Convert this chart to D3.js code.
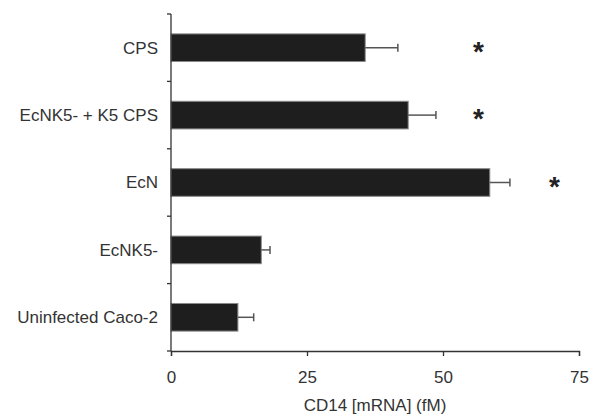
<!DOCTYPE html>
<html>
<head>
<meta charset="utf-8">
<script src="https://cdn.jsdelivr.net/npm/d3@7"></script>
<style>
  body { margin: 0; background: #fff; }
  svg text { font-family: "Liberation Sans", Arial, sans-serif; fill: #333; }
</style>
</head>
<body>
<div id="chart"></div>
<script>
// CD14 mRNA per condition, top to bottom
const categories = ["CPS", "EcNK5- + K5 CPS", "EcN", "EcNK5-", "Uninfected Caco-2"];
const means      = [35.7, 43.6, 58.6, 16.6, 12.3];
const errors     = [6.0, 5.1, 3.7, 1.6, 2.9];
const starX      = [56.5, 56.5, 70.5, null, null];   // where the "*" marks sit
const xTicks     = [0, 25, 50, 75];

const width = 591, height = 416;
const margin = { top: 14, right: 12, bottom: 65, left: 171 };
const FONT = "17px";

const svg = d3.select("#chart").append("svg")
    .attr("width", width)
    .attr("height", height);

const x = d3.scaleLinear().domain([0, 75]).range([margin.left, width - margin.right]);
const y = d3.scaleBand().domain(categories).range([margin.top, height - margin.bottom]).padding(0);
const barH = y.bandwidth() * 0.41;

// bars
svg.selectAll("rect.bar")
    .data(categories)
    .join("rect")
    .attr("class", "bar")
    .attr("x", x(0))
    .attr("y", d => y(d) + (y.bandwidth() - barH) / 2)
    .attr("width", (d, i) => x(means[i]) - x(0))
    .attr("height", barH)
    .attr("fill", "#1e1e1e")
    .attr("stroke", "#8a8a8a")
    .attr("stroke-width", 1);

// error bars (one-sided, to the right)
const eb = svg.selectAll("g.err")
    .data(categories)
    .join("g")
    .attr("class", "err")
    .attr("stroke", "#555")
    .attr("stroke-width", 1.5);

eb.append("line")
    .attr("x1", (d, i) => x(means[i]))
    .attr("x2", (d, i) => x(means[i] + errors[i]))
    .attr("y1", d => y(d) + y.bandwidth() / 2)
    .attr("y2", d => y(d) + y.bandwidth() / 2);

eb.append("line")
    .attr("x1", (d, i) => x(means[i] + errors[i]))
    .attr("x2", (d, i) => x(means[i] + errors[i]))
    .attr("y1", d => y(d) + y.bandwidth() / 2 - 4)
    .attr("y2", d => y(d) + y.bandwidth() / 2 + 4);

// significance stars
svg.selectAll("text.star")
    .data(categories.filter((d, i) => starX[i] != null))
    .join("text")
    .attr("class", "star")
    .attr("x", d => x(starX[categories.indexOf(d)]))
    .attr("y", d => y(d) + y.bandwidth() / 2 + 13)
    .attr("text-anchor", "middle")
    .attr("font-size", "28px")
    .attr("font-weight", "bold")
    .style("fill", "#222")
    .text("*");

// x axis
const xAxis = svg.append("g")
    .attr("transform", `translate(0,${height - margin.bottom})`)
    .call(d3.axisBottom(x).tickValues(xTicks).tickSizeOuter(0).tickSize(5).tickPadding(15));
xAxis.selectAll("line, path").attr("stroke", "#333").attr("stroke-width", 1.3);
xAxis.selectAll("text").attr("font-size", FONT).style("fill", "#333");

// y axis: ticks at category boundaries
const yEdges = categories.map(d => y(d)).concat([y.range()[1]]);
const yAxis = svg.append("g");
yAxis.append("line")
    .attr("x1", x(0)).attr("x2", x(0))
    .attr("y1", y.range()[0]).attr("y2", y.range()[1])
    .attr("stroke", "#333").attr("stroke-width", 1.3);
yAxis.selectAll("line.tick")
    .data(yEdges)
    .join("line")
    .attr("class", "tick")
    .attr("x1", x(0) - 4).attr("x2", x(0))
    .attr("y1", d => d).attr("y2", d => d)
    .attr("stroke", "#333").attr("stroke-width", 1.3);

yAxis.selectAll("text")
    .data(categories)
    .join("text")
    .attr("x", x(0) - 13)
    .attr("y", d => y(d) + y.bandwidth() / 2)
    .attr("dy", "0.35em")
    .attr("text-anchor", "end")
    .attr("font-size", FONT)
    .text(d => d);

// x axis title
svg.append("text")
    .attr("x", (x(0) + x(75)) / 2)
    .attr("y", 411)
    .attr("text-anchor", "middle")
    .attr("font-size", FONT)
    .text("CD14 [mRNA] (fM)");
</script>
</body>
</html>
